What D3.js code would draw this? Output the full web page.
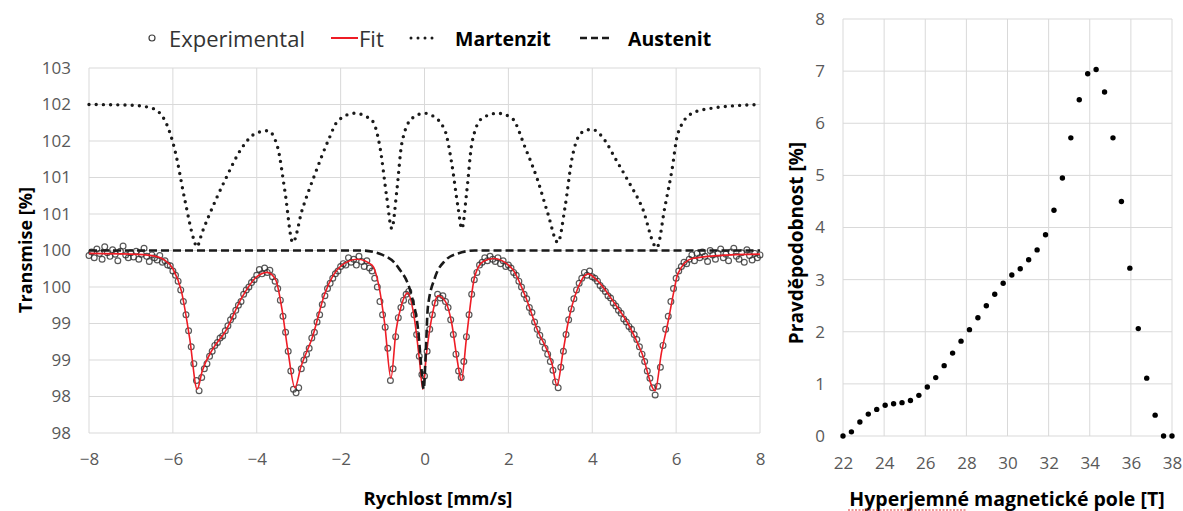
<!DOCTYPE html>
<html><head><meta charset="utf-8">
<script src="https://cdn.jsdelivr.net/npm/d3@7"></script>
<style>
html,body{margin:0;padding:0;background:#fff;}
svg{display:block;font-family:"Open Sans",sans-serif;}
</style></head><body>
<svg id="c" width="1183" height="511"></svg>
<script>
// ---------- Left chart data ----------
const velocityStart = -8, velocityStep = 0.0625; // channel grid (mm/s)
const experimental = [
 99.93,99.98,99.90,100.02,99.96,99.88,100.05,99.97,99.92,100.01,99.95,99.86,99.99,100.06,99.94,99.90,
 99.97,99.91,99.99,99.88,99.95,100.03,99.92,99.85,99.94,99.90,99.87,99.93,99.84,99.86,99.80,99.79,
 99.72,99.66,99.58,99.46,99.30,99.12,98.90,98.68,98.45,98.22,98.08,98.26,98.38,98.45,98.55,98.62,
 98.70,98.74,98.80,98.83,98.90,98.97,99.05,99.10,99.18,99.25,99.30,99.40,99.46,99.50,99.56,99.60,
 99.66,99.74,99.68,99.76,99.70,99.73,99.64,99.58,99.48,99.32,99.10,98.88,98.62,98.35,98.10,98.05,
 98.12,98.38,98.50,98.58,98.66,98.80,98.88,99.02,99.12,99.26,99.38,99.48,99.55,99.62,99.68,99.72,
 99.78,99.82,99.80,99.90,99.84,99.88,99.80,99.92,99.85,99.78,99.86,99.76,99.72,99.62,99.50,99.30,
 99.12,98.95,98.66,98.22,98.38,98.82,99.08,99.22,99.32,99.40,99.44,99.30,99.12,98.85,98.55,98.30,
 98.28,98.62,98.92,99.12,99.28,99.40,99.35,99.38,99.30,99.22,99.05,98.85,98.58,98.35,98.26,98.48,
 98.82,99.12,99.40,99.60,99.70,99.80,99.84,99.90,99.86,99.92,99.88,99.85,99.90,99.82,99.86,99.78,
 99.80,99.76,99.70,99.66,99.58,99.50,99.40,99.34,99.22,99.15,99.02,98.92,98.84,98.75,98.66,98.58,
 98.48,98.36,98.20,98.12,98.40,98.62,98.85,99.05,99.20,99.34,99.46,99.55,99.62,99.70,99.66,99.72,
 99.64,99.62,99.58,99.52,99.48,99.44,99.38,99.35,99.28,99.24,99.18,99.14,99.06,99.02,98.96,98.92,
 98.85,98.78,98.68,98.58,98.48,98.35,98.25,98.12,98.02,98.14,98.40,98.70,98.92,99.10,99.30,99.48,
 99.62,99.72,99.78,99.84,99.82,99.88,99.94,99.86,99.96,99.90,99.98,99.92,99.85,100.00,99.94,99.88,
 99.96,100.02,99.90,99.95,99.86,99.98,100.03,99.92,99.88,99.97,99.84,100.01,99.93,99.87,99.96,99.90,
 99.94
];
const fitV = [-8,-7,-6.5,-6.2,-6.0,-5.8,-5.6,-5.42,-5.3,-5.05,-4.76,-4.35,-4.04,-3.75,-3.55,-3.4,-3.25,-3.09,-2.95,-2.68,-2.37,-1.97,-1.6,-1.25,-1.1,-0.95,-0.8,-0.68,-0.54,-0.4,-0.25,-0.12,-0.04,0.05,0.18,0.32,0.5,0.65,0.78,0.88,1.0,1.2,1.4,1.65,2.09,2.4,2.7,3.04,3.16,3.3,3.42,3.66,3.9,4.1,4.54,4.85,5.18,5.5,5.65,5.8,5.95,6.04,6.38,7.0,8];
const fitT = [99.96,99.95,99.93,99.87,99.75,99.45,98.8,98.1,98.35,98.65,98.88,99.36,99.62,99.7,99.6,99.2,98.6,98.12,98.4,98.8,99.42,99.8,99.88,99.8,99.55,99.0,98.25,98.9,99.27,99.42,99.1,98.5,98.1,98.6,99.1,99.38,99.3,99.0,98.5,98.22,98.8,99.65,99.85,99.89,99.75,99.38,98.9,98.45,98.15,98.6,99.0,99.49,99.68,99.6,99.27,99.0,98.6,98.08,98.6,99.0,99.45,99.68,99.89,99.93,99.95];
const martV = [-8,-7,-6.5,-6.19,-5.95,-5.71,-5.5,-5.43,-5.3,-5.16,-4.76,-4.35,-4.04,-3.73,-3.5,-3.33,-3.14,-2.92,-2.61,-2.3,-2.06,-1.66,-1.25,-1.06,-0.9,-0.78,-0.66,-0.54,-0.3,0.0,0.18,0.49,0.65,0.8,0.89,1.01,1.13,1.37,1.75,2.09,2.4,2.7,2.94,3.18,3.35,3.52,3.76,3.99,4.3,4.54,4.85,5.19,5.54,5.73,5.9,6.04,6.38,6.86,8];
const martT = [102.0,101.99,101.95,101.78,101.37,100.68,100.15,100.05,100.25,100.45,100.96,101.41,101.6,101.64,101.41,100.82,100.11,100.55,101.05,101.5,101.78,101.88,101.78,101.41,100.73,100.3,100.82,101.47,101.81,101.88,101.85,101.64,101.19,100.59,100.3,100.82,101.47,101.81,101.88,101.81,101.41,100.96,100.51,100.11,100.59,101.27,101.62,101.66,101.51,101.27,100.96,100.59,100.04,100.59,101.1,101.6,101.88,101.95,102.0];
const austV = [-8,-1.5,-1.0,-0.63,-0.3,-0.15,-0.06,-0.02,0.03,0.08,0.25,0.49,0.8,1.2,8];
const austT = [100,100,99.94,99.77,99.36,98.9,98.3,98.1,98.6,99.22,99.63,99.86,99.96,100,100];
const velocityTicks = [-8,-6,-4,-2,0,2,4,6,8];
const transTicks = [97.5,98,98.5,99,99.5,100,100.5,101,101.5,102,102.5];
const transTickLabels = ["98","98","99","99","100","100","101","101","102","102","103"];
const legendNames = ["Experimental","Fit","Martenzit","Austenit"];

// ---------- Right chart data ----------
const fieldT = [22.0,22.41,22.82,23.23,23.64,24.05,24.46,24.87,25.28,25.69,26.10,26.51,26.92,27.33,27.74,28.15,28.56,28.97,29.38,29.79,30.21,30.62,31.03,31.44,31.85,32.26,32.67,33.08,33.49,33.90,34.31,34.72,35.13,35.54,35.95,36.36,36.77,37.18,37.59,38.0];
const probability = [0,0.08,0.27,0.42,0.51,0.59,0.62,0.64,0.68,0.78,0.94,1.12,1.35,1.59,1.82,2.04,2.27,2.5,2.72,2.93,3.09,3.21,3.38,3.57,3.86,4.33,4.95,5.72,6.45,6.95,7.03,6.6,5.72,4.5,3.22,2.06,1.11,0.4,0,0];
const fieldTicks = [22,24,26,28,30,32,34,36,38];
const probTicks = [0,1,2,3,4,5,6,7,8];

// ---------- Drawing ----------
const svg = d3.select("#c");
const gridColor = "#d9d9d9", tickColor = "#595959";
const red = "#ee1c25";

const xL = d3.scaleLinear([-8, 8], [89, 760]);
const yL = d3.scaleLinear([97.5, 102.5], [433, 68]);

const gL = svg.append("g");
gL.append("g").selectAll("line").data(velocityTicks).join("line")
  .attr("x1", d => xL(d)).attr("x2", d => xL(d)).attr("y1", yL(102.5)).attr("y2", yL(97.5))
  .attr("stroke", gridColor).attr("stroke-width", 1);
gL.append("g").selectAll("line").data(transTicks).join("line")
  .attr("x1", xL(-8)).attr("x2", xL(8)).attr("y1", d => yL(d)).attr("y2", d => yL(d))
  .attr("stroke", gridColor).attr("stroke-width", 1);

const axL = gL.append("g").attr("transform", `translate(${xL(-8)},0)`)
  .call(d3.axisLeft(yL).tickValues(transTicks).tickSize(0).tickPadding(18)
        .tickFormat((d, i) => transTickLabels[i]));
const axB = gL.append("g").attr("transform", `translate(0,${yL(97.5)})`)
  .call(d3.axisBottom(xL).tickValues(velocityTicks).tickSize(0).tickPadding(20).tickFormat(d3.format("d")));
[axL, axB].forEach(a => {
  a.select(".domain").remove();
  a.selectAll("text").attr("font-size", 17).attr("fill", tickColor).attr("font-family", "Open Sans");
});

const expData = experimental.map((t, i) => [velocityStart + i * velocityStep, t]);
const lineL = d3.line().x(d => xL(d[0])).y(d => yL(d[1])).curve(d3.curveMonotoneX);

gL.append("g").selectAll("circle").data(expData).join("circle")
  .attr("cx", d => xL(d[0])).attr("cy", d => yL(d[1])).attr("r", 2.9)
  .attr("fill", "none").attr("stroke", "#2e2e2e").attr("stroke-opacity", 0.8).attr("stroke-width", 1.2);

gL.append("path").attr("d", lineL(fitV.map((v, i) => [v, fitT[i]])))
  .attr("fill", "none").attr("stroke", red).attr("stroke-width", 1.6);
gL.append("path").attr("d", lineL(martV.map((v, i) => [v, martT[i]])))
  .attr("fill", "none").attr("stroke", "#1a1a1a").attr("stroke-width", 3.4)
  .attr("stroke-linecap", "round").attr("stroke-dasharray", "0 7.2");
gL.append("path").attr("d", lineL(austV.map((v, i) => [v, austT[i]])))
  .attr("fill", "none").attr("stroke", "#1a1a1a").attr("stroke-width", 2.6)
  .attr("stroke-dasharray", "8 4");

svg.append("text").attr("transform", "translate(25,250) rotate(-90)")
  .attr("text-anchor", "middle").attr("dominant-baseline", "central")
  .attr("font-size", 18).attr("font-weight", "bold").attr("fill", "#000").text("Transmise [%]");
svg.append("text").attr("x", 438).attr("y", 497)
  .attr("text-anchor", "middle").attr("dominant-baseline", "central")
  .attr("font-size", 18.5).attr("font-weight", "bold").attr("fill", "#000").text("Rychlost [mm/s]");

// legend
const lg = svg.append("g").attr("font-size", 22);
lg.append("circle").attr("cx", 152).attr("cy", 38).attr("r", 3).attr("fill", "none").attr("stroke", "#404040").attr("stroke-width", 1.2);
lg.append("text").attr("x", 169).attr("y", 38).attr("dominant-baseline", "central").attr("fill", "#333").text(legendNames[0]);
lg.append("line").attr("x1", 331).attr("x2", 358).attr("y1", 38).attr("y2", 38).attr("stroke", red).attr("stroke-width", 2);
lg.append("text").attr("x", 359).attr("y", 38).attr("dominant-baseline", "central").attr("fill", "#333").text(legendNames[1]);
lg.append("line").attr("x1", 411).attr("x2", 437).attr("y1", 38).attr("y2", 38).attr("stroke", "#1a1a1a").attr("stroke-width", 3)
  .attr("stroke-linecap", "round").attr("stroke-dasharray", "0 7");
lg.append("text").attr("x", 455).attr("y", 38).attr("dominant-baseline", "central").attr("font-weight", "bold").attr("font-size", 19.5).attr("fill", "#000").text(legendNames[2]);
lg.append("line").attr("x1", 580).attr("x2", 609).attr("y1", 38).attr("y2", 38).attr("stroke", "#1a1a1a").attr("stroke-width", 2.6)
  .attr("stroke-dasharray", "7 4");
lg.append("text").attr("x", 628).attr("y", 38).attr("dominant-baseline", "central").attr("font-weight", "bold").attr("font-size", 19.5).attr("fill", "#000").text(legendNames[3]);

// ---------- Right chart ----------
const xR = d3.scaleLinear([22, 38], [843, 1172]);
const yR = d3.scaleLinear([0, 8], [436, 19]);
const gR = svg.append("g");
gR.append("g").selectAll("line").data(fieldTicks).join("line")
  .attr("x1", d => xR(d)).attr("x2", d => xR(d)).attr("y1", yR(8)).attr("y2", yR(0))
  .attr("stroke", gridColor).attr("stroke-width", 1);
gR.append("g").selectAll("line").data(probTicks).join("line")
  .attr("x1", xR(22)).attr("x2", xR(38)).attr("y1", d => yR(d)).attr("y2", d => yR(d))
  .attr("stroke", gridColor).attr("stroke-width", 1);
const axRL = gR.append("g").attr("transform", `translate(${xR(22)},0)`)
  .call(d3.axisLeft(yR).tickValues(probTicks).tickSize(0).tickPadding(18).tickFormat(d3.format("d")));
const axRB = gR.append("g").attr("transform", `translate(0,${yR(0)})`)
  .call(d3.axisBottom(xR).tickValues(fieldTicks).tickSize(0).tickPadding(21).tickFormat(d3.format("d")));
[axRL, axRB].forEach(a => {
  a.select(".domain").remove();
  a.selectAll("text").attr("font-size", 17).attr("fill", tickColor).attr("font-family", "Open Sans");
});
gR.append("g").selectAll("circle").data(fieldT).join("circle")
  .attr("cx", d => xR(d)).attr("cy", (d, i) => yR(probability[i])).attr("r", 2.7).attr("fill", "#000");

svg.append("text").attr("transform", "translate(796,243) rotate(-90)")
  .attr("text-anchor", "middle").attr("dominant-baseline", "central")
  .attr("font-size", 19).attr("font-weight", "bold").attr("fill", "#000").text("Pravděpodobnost [%]");
svg.append("text").attr("x", 1007).attr("y", 498)
  .attr("text-anchor", "middle").attr("dominant-baseline", "central")
  .attr("font-size", 19.5).attr("font-weight", "bold").attr("fill", "#000").text("Hyperjemné magnetické pole [T]");
svg.append("line").attr("x1", 848).attr("x2", 966).attr("y1", 510).attr("y2", 510)
  .attr("stroke", "#e03030").attr("stroke-width", 1.2).attr("stroke-dasharray", "2 1.5");
</script>
</body></html>
